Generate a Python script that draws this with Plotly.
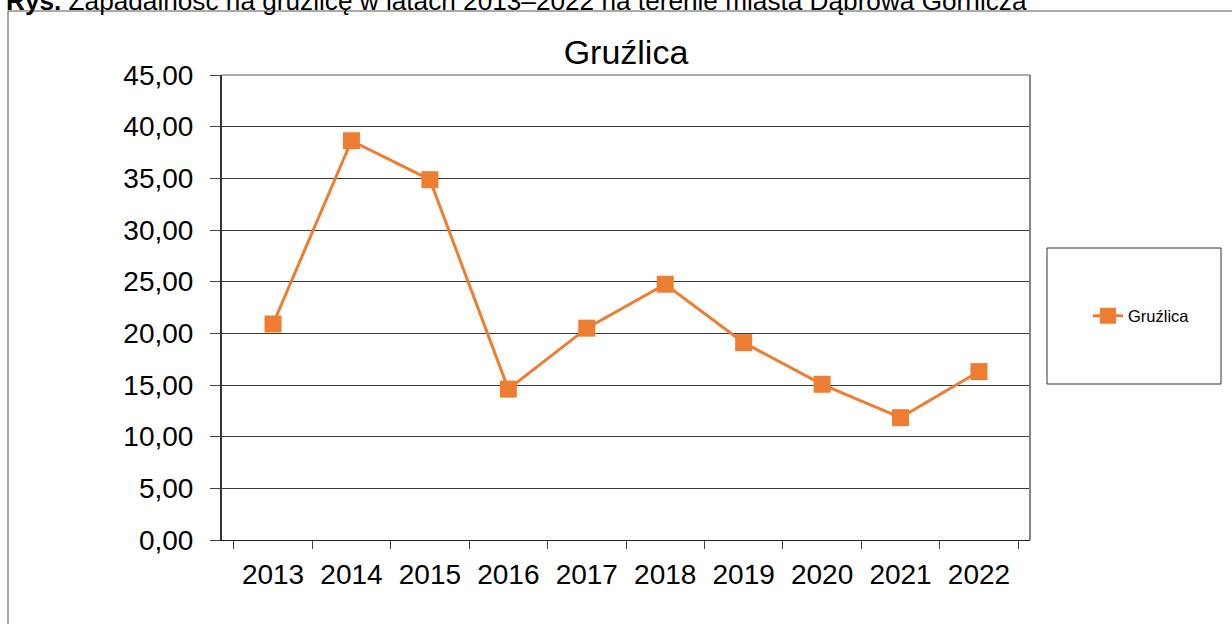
import plotly.graph_objects as go

years = ["2013", "2014", "2015", "2016", "2017", "2018", "2019", "2020", "2021", "2022"]
values = [20.9, 38.64, 34.87, 14.6, 20.5, 24.75, 19.1, 15.07, 11.84, 16.3]
series_name = "Gruźlica"
chart_title = "Gruźlica"
caption_bold = "Rys."
caption_text = " Zapadalność na gruźlicę w latach 2013–2022 na terenie miasta Dąbrowa Górnicza"

W, H = 1232, 624
L, R, T, B = 222, 1030, 75, 540
pw, ph = R - L, B - T

def px(x):
    return (x - L) / pw

def py(y):
    return (B - y) / ph

FONT = "Liberation Sans, Arial, sans-serif"
ORANGE = "#ED7D31"

fig = go.Figure()
fig.add_trace(go.Scatter(
    x=years, y=values, name=series_name, mode="lines+markers",
    line=dict(color=ORANGE, width=3),
    marker=dict(symbol="square", size=17, color=ORANGE),
))

shapes = [
    # outer chart frame
    dict(type="rect", xref="paper", yref="paper", x0=px(8), x1=px(W + 20), y0=py(H + 20), y1=py(11),
         line=dict(color="#555", width=1), layer="below"),
    # plot area border (top / right)
    dict(type="line", xref="paper", yref="paper", x0=0, x1=1, y0=1, y1=1, line=dict(color="#aaaaaa", width=2)),
    dict(type="line", xref="paper", yref="paper", x0=1, x1=1, y0=0, y1=1, line=dict(color="#888888", width=2)),
    # legend box
    dict(type="rect", xref="paper", yref="paper", x0=px(1047), x1=px(1221), y0=py(384), y1=py(248),
         line=dict(color="#333", width=1)),
]

fig.update_layout(
    width=W, height=H,
    margin=dict(l=L, r=W - R, t=T, b=H - B, autoexpand=False),
    paper_bgcolor="white", plot_bgcolor="white",
    separators=", ",
    font=dict(family=FONT, color="black", size=28),
    title=dict(text=chart_title, x=(L + R) / 2 / W, xanchor="center", y=1 - 52 / H, yanchor="middle",
               font=dict(size=34, family=FONT, color="black")),
    showlegend=True,
    legend=dict(x=px(1088), xanchor="left", y=py(316), yanchor="middle",
                bgcolor="rgba(0,0,0,0)", borderwidth=0, font=dict(size=16.5, family=FONT)),
    shapes=shapes,
    annotations=[dict(
        text="<b>" + caption_bold + "</b>" + caption_text,
        xref="paper", yref="paper", x=px(4), xanchor="left", y=py(1), yanchor="middle",
        showarrow=False, font=dict(size=26.2, family=FONT, color="black"),
    )],
)

fig.update_xaxes(
    type="category", showgrid=False, showline=True, linecolor="#222", linewidth=1,
    ticks="outside", tickson="boundaries", ticklen=8, tickcolor="#444",
    tickfont=dict(size=28, family=FONT), zeroline=False, ticklabelstandoff=9,
)
fig.update_yaxes(
    range=[0, 45], dtick=5, tickformat=".2f", showgrid=True, gridcolor="#3a3a3a", gridwidth=1,
    showline=True, linecolor="#333", linewidth=2, ticks="outside", ticklen=10, tickcolor="#444",
    tickfont=dict(size=28, family=FONT), zeroline=False, ticklabelstandoff=11,
)

fig.write_html("out.html", config={"displayModeBar": False},
               post_script="document.body.style.margin='0';")
